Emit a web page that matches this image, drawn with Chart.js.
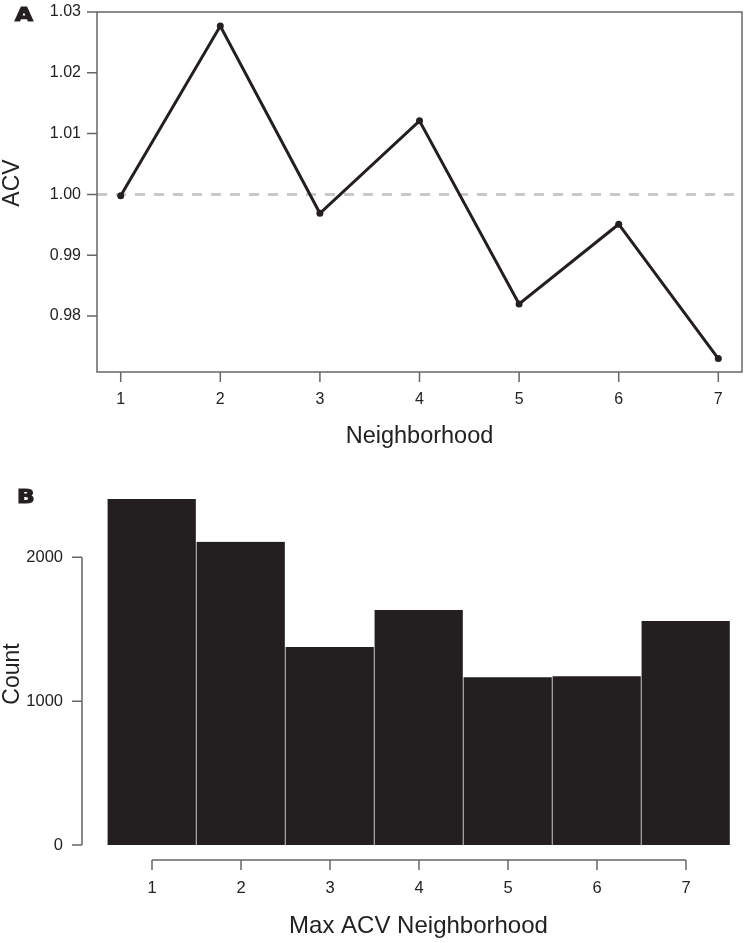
<!DOCTYPE html>
<html>
<head>
<meta charset="utf-8">
<script src="https://cdn.jsdelivr.net/npm/chart.js@4"></script>
<style>
  html, body { margin: 0; padding: 0; background: #fff; overflow: hidden; }
  #wrap { position: relative; width: 746px; height: 943px; }
  canvas { position: absolute; left: 0; }
  #chartA { top: 0; }
  #chartB { top: 460px; }
  .panel { position: absolute; font-family: "DejaVu Sans", sans-serif; font-weight: bold;
           font-size: 19px; line-height: 19px; color: #231f20; -webkit-text-stroke: 1.2px #231f20;
           transform: scaleX(1.22); transform-origin: left top; }
</style>
</head>
<body>
<div id="wrap">
  <canvas id="chartA" width="746" height="460"></canvas>
  <canvas id="chartB" width="746" height="483"></canvas>
  <div class="panel" style="left:15px; top:5px;">A</div>
  <div class="panel" style="left:17px; top:487px;">B</div>
</div>
<script>
// data
const neighborhoods = [1, 2, 3, 4, 5, 6, 7];
const acvValues = [0.9998, 1.0277, 0.9969, 1.0121, 0.9820, 0.9951, 0.9730];
const acvTicks = [0.98, 0.99, 1.00, 1.01, 1.02, 1.03];
const acvRef = 1.00;

const maxNeighborhoods = [1, 2, 3, 4, 5, 6, 7];
const counts = [2405, 2108, 1376, 1633, 1167, 1174, 1557];
const countTicks = [0, 1000, 2000];

const INK = '#231f20';
const AXIS = '#666666';
const FONT = "'Liberation Sans', Arial, sans-serif";

Chart.defaults.font.family = FONT;
Chart.defaults.color = '#222';
Chart.defaults.animation = false;

// rotated y titles, placed by hand like the original figure
function yTitle(text, cx, cy, size) {
    return {
        id: 'yTitle',
        afterDraw(chart) {
            const ctx = chart.ctx;
            ctx.save();
            ctx.translate(cx, cy);
            ctx.rotate(-Math.PI / 2);
            ctx.font = size + 'px ' + FONT;
            ctx.fillStyle = '#222';
            ctx.textAlign = 'center';
            ctx.textBaseline = 'middle';
            ctx.fillText(text, 0, 0);
            ctx.restore();
        }
    };
}

// box + outside tick marks for panel A
const frameBox = {
    id: 'frameBox',
    afterDraw(chart) {
        const { ctx, chartArea: a, scales } = chart;
        ctx.save();
        ctx.strokeStyle = AXIS;
        ctx.lineWidth = 1.5;
        ctx.strokeRect(a.left, a.top, a.right - a.left, a.bottom - a.top);
        ctx.beginPath();
        neighborhoods.forEach(v => {
            const px = scales.x.getPixelForValue(v);
            ctx.moveTo(px, a.bottom);
            ctx.lineTo(px, a.bottom + 10);
        });
        acvTicks.forEach(v => {
            const py = scales.y.getPixelForValue(v);
            ctx.moveTo(a.left, py);
            ctx.lineTo(a.left - 10, py);
        });
        ctx.stroke();
        ctx.restore();
    }
};

// detached R style axes for panel B
const detachedAxes = {
    id: 'detachedAxes',
    afterDraw(chart) {
        const { ctx, chartArea: a, scales } = chart;
        const x = scales.x, y = scales.y;
        ctx.save();
        ctx.strokeStyle = AXIS;
        ctx.lineWidth = 1.5;
        ctx.beginPath();
        const yx = a.left - 15;
        ctx.moveTo(yx, y.getPixelForValue(countTicks[0]));
        ctx.lineTo(yx, y.getPixelForValue(countTicks[countTicks.length - 1]));
        countTicks.forEach(v => {
            const py = y.getPixelForValue(v);
            ctx.moveTo(yx, py);
            ctx.lineTo(yx - 10, py);
        });
        const xy = a.bottom + 15;
        ctx.moveTo(x.getPixelForValue(maxNeighborhoods[0]), xy);
        ctx.lineTo(x.getPixelForValue(maxNeighborhoods[maxNeighborhoods.length - 1]), xy);
        maxNeighborhoods.forEach(v => {
            const px = x.getPixelForValue(v);
            ctx.moveTo(px, xy);
            ctx.lineTo(px, xy + 10);
        });
        ctx.stroke();
        ctx.restore();
    }
};

const xMinA = 0.762, xMaxA = 7.238;

new Chart(document.getElementById('chartA'), {
    type: 'line',
    data: {
        datasets: [
            {
                data: neighborhoods.map((n, i) => ({ x: n, y: acvValues[i] })),
                borderColor: INK,
                backgroundColor: INK,
                borderWidth: 3,
                pointRadius: 3.5,
                pointBackgroundColor: INK,
                pointBorderWidth: 0,
                tension: 0
            },
            {
                data: [{ x: xMinA, y: acvRef }, { x: xMaxA, y: acvRef }],
                borderColor: '#c9c9c9',
                borderWidth: 3,
                borderDash: [10, 9],
                pointRadius: 0
            }
        ]
    },
    options: {
        responsive: false,
        layout: { padding: { top: 12, right: 4, left: 0, bottom: 0 } },
        plugins: { legend: { display: false }, tooltip: { enabled: false } },
        scales: {
            x: {
                type: 'linear',
                min: xMinA,
                max: xMaxA,
                afterFit: s => { s.height = 88; },
                afterBuildTicks: s => { s.ticks = neighborhoods.map(v => ({ value: v })); },
                grid: { display: false, drawTicks: true, tickLength: 18 },
                border: { display: false },
                ticks: { font: { size: 16 }, padding: 0, maxRotation: 0 },
                title: { display: true, text: 'Neighborhood', font: { size: 23.5 }, padding: { top: 0, bottom: 9 } }
            },
            y: {
                min: 0.9708,
                max: 1.03,
                afterFit: s => { s.width = 97; },
                afterBuildTicks: s => { s.ticks = acvTicks.map(v => ({ value: v })); },
                grid: { display: false, drawTicks: true, tickLength: 16 },
                border: { display: false },
                ticks: { font: { size: 16 }, padding: 0, callback: v => v.toFixed(2) },
                title: { display: false }
            }
        }
    },
    plugins: [frameBox, yTitle('ACV', 12.5, 183, 23)]
});

new Chart(document.getElementById('chartB'), {
    type: 'bar',
    data: {
        datasets: [{
            data: maxNeighborhoods.map((n, i) => ({ x: n, y: counts[i] })),
            backgroundColor: INK,
            borderColor: '#ffffff',
            borderWidth: { left: 0, right: 1, top: 0, bottom: 0 },
            borderSkipped: false,
            barPercentage: 1,
            categoryPercentage: 1
        }]
    },
    options: {
        responsive: false,
        layout: { padding: { top: 25.4, right: 6, left: 0, bottom: 0 } },
        plugins: { legend: { display: false }, tooltip: { enabled: false } },
        scales: {
            x: {
                type: 'linear',
                offset: false,
                min: 0.382,
                max: 7.607,
                afterFit: s => { s.height = 98; },
                afterBuildTicks: s => { s.ticks = maxNeighborhoods.map(v => ({ value: v })); },
                grid: { display: false, drawTicks: true, tickLength: 34 },
                border: { display: false },
                ticks: { font: { size: 16.5 }, padding: 0, maxRotation: 0 },
                title: { display: true, text: 'Max ACV Neighborhood', font: { size: 24 }, padding: { top: 0, bottom: 2 } }
            },
            y: {
                min: 0,
                max: 2500,
                afterFit: s => { s.width = 97; },
                afterBuildTicks: s => { s.ticks = countTicks.map(v => ({ value: v })); },
                grid: { display: false, drawTicks: true, tickLength: 34 },
                border: { display: false },
                ticks: { font: { size: 16.5 }, padding: 0, callback: v => String(v) },
                title: { display: false }
            }
        }
    },
    plugins: [detachedAxes, yTitle('Count', 12.5, 214, 23)]
});
</script>
</body>
</html>
